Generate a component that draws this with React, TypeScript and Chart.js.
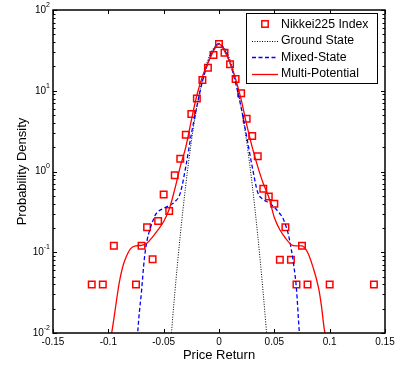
import React, { useEffect, useRef } from "react";
import { Chart, registerables } from "chart.js";

Chart.register(...registerables);

// ---- Data ----
const nikkeiReturns = [
  -0.115, -0.105, -0.095, -0.075, -0.07, -0.065, -0.06, -0.055, -0.05, -0.045, -0.04, -0.035,
  -0.03, -0.025, -0.02, -0.015, -0.01, -0.005, 0, 0.005, 0.01, 0.015, 0.02, 0.025, 0.03, 0.035,
  0.04, 0.045, 0.05, 0.055, 0.06, 0.065, 0.07, 0.075, 0.08, 0.1, 0.14,
];
const nikkeiDensity = [
  0.04, 0.04, 0.12, 0.04, 0.12, 0.204, 0.082, 0.244, 0.52, 0.324, 0.9, 1.44,
  2.86, 5.15, 8.0, 13.6, 19.3, 27.7, 37.9, 29.6, 21.3, 14, 9.3, 4.5, 2.75, 1.54,
  0.61, 0.49, 0.4, 0.081, 0.204, 0.081, 0.04, 0.12, 0.04, 0.04, 0.04,
];

const groundReturns = [
  -0.045, -0.04, -0.035, -0.03, -0.025, -0.02, -0.015, -0.01, -0.005, 0,
  0.005, 0.01, 0.015, 0.02, 0.025, 0.03, 0.035, 0.04, 0.045,
];
const groundDensity = [
  0.0046, 0.0305, 0.162, 0.686, 2.33, 6.35, 13.8, 24.1, 33.6, 37.6,
  33.6, 24.1, 13.8, 6.35, 2.33, 0.686, 0.162, 0.0305, 0.0046,
];

const mixedReturns = [
  -0.075, -0.0725, -0.07, -0.0675, -0.065, -0.0625, -0.06, -0.0575, -0.055, -0.05, -0.045, -0.04,
  -0.035, -0.03, -0.025, -0.02, -0.015, -0.01, -0.005, 0, 0.005, 0.01, 0.015, 0.02, 0.025, 0.03,
  0.035, 0.04, 0.045, 0.05, 0.055, 0.0575, 0.06, 0.0625, 0.065, 0.0675, 0.07, 0.0725, 0.075,
];
const mixedDensity = [
  0.005, 0.015, 0.033, 0.082, 0.14, 0.19, 0.24, 0.29, 0.32, 0.35, 0.38, 0.42,
  0.54, 1.15, 2.9, 6.4, 13, 22, 32, 38.5, 32, 22, 12.5, 6.2, 2.7, 1.15,
  0.55, 0.45, 0.41, 0.36, 0.3, 0.27, 0.22, 0.17, 0.115, 0.07, 0.035, 0.0105, 0.004,
];

const multiReturns = [
  -0.1, -0.097, -0.095, -0.0925, -0.09, -0.0875, -0.085, -0.08, -0.075, -0.07, -0.065, -0.06,
  -0.055, -0.05, -0.045, -0.04, -0.035, -0.03, -0.025, -0.02, -0.015, -0.01, -0.005, 0,
  0.005, 0.01, 0.015, 0.02, 0.025, 0.03, 0.035, 0.04, 0.045, 0.05, 0.055, 0.06, 0.065, 0.07,
  0.075, 0.08, 0.085, 0.09, 0.0925, 0.095, 0.098,
];
const multiDensity = [
  0.006, 0.01, 0.015, 0.026, 0.043, 0.062, 0.08, 0.11, 0.12, 0.122, 0.13, 0.155,
  0.19, 0.24, 0.34, 0.6, 1.15, 2.0, 4.3, 8.8, 15, 22, 31, 38,
  31, 22, 14, 7.8, 3.8, 2.0, 1.15, 0.71, 0.48, 0.27, 0.19, 0.15, 0.125, 0.12,
  0.12, 0.1, 0.065, 0.036, 0.022, 0.0115, 0.007,
];

const seriesLabels = ["Nikkei225 Index", "Ground State", "Mixed-State", "Multi-Potential"];
const xTickValues = [-0.15, -0.1, -0.05, 0, 0.05, 0.1, 0.15];
const xTickLabels = ["-0.15", "-0.1", "-0.05", "0", "0.05", "0.1", "0.15"];
const yDecades = [0.01, 0.1, 1, 10, 100];
const yTickExponents = ["-2", "-1", "0", "1", "2"];
const xTitle = "Price Return";
const yTitle = "Probability Density";

const FONT = "'Liberation Sans', Arial, Helvetica, sans-serif";
const RED = "#ff0000";
const BLUE = "#0000ff";

const zip = (xs: number[], ys: number[]) => xs.map((x, i) => ({ x, y: ys[i] }));

const framePlugin = {
  id: "frameAndLegend",
  afterDraw(chart: any) {
    const { ctx, chartArea: a, scales } = chart;
    const xs = scales.x;
    const ys = scales.y;
    ctx.save();
    ctx.strokeStyle = "#000";
    ctx.lineWidth = 1;
    const seg = (x1: number, y1: number, x2: number, y2: number) => {
      ctx.beginPath();
      ctx.moveTo(x1, y1);
      ctx.lineTo(x2, y2);
      ctx.stroke();
    };
    // x ticks (inward, top and bottom)
    xTickValues.forEach((v) => {
      const px = Math.round(xs.getPixelForValue(v)) + 0.5;
      seg(px, a.bottom, px, a.bottom - 4);
      seg(px, a.top, px, a.top + 4);
    });
    // y ticks (inward, left and right)
    ys.ticks.forEach((t: any) => {
      const py = Math.round(ys.getPixelForValue(t.value)) + 0.5;
      const major = yDecades.some((d) => Math.abs(d - t.value) / d < 1e-6);
      const len = major ? 4 : 2.5;
      seg(a.left, py, a.left + len, py);
      seg(a.right, py, a.right - len, py);
    });
    // frame
    ctx.lineWidth = 1.5;
    ctx.strokeRect(a.left, a.top, a.right - a.left, a.bottom - a.top);

    // y tick labels: 10 with superscript exponent
    ctx.fillStyle = "#000";
    ctx.textBaseline = "middle";
    ctx.textAlign = "right";
    yDecades.forEach((v, i) => {
      const py = ys.getPixelForValue(v);
      const exp = yTickExponents[i];
      ctx.font = `7px ${FONT}`;
      const ew = ctx.measureText(exp).width;
      ctx.fillText(exp, a.left - 3, py - 5);
      ctx.font = `10px ${FONT}`;
      ctx.fillText("10", a.left - 3 - ew, py);
    });

    // legend
    const lx = 246, ly = 13, lw = 131, lh = 70;
    ctx.fillStyle = "#fff";
    ctx.fillRect(lx, ly, lw, lh);
    ctx.lineWidth = 1;
    ctx.strokeStyle = "#000";
    ctx.strokeRect(lx + 0.5, ly + 0.5, lw, lh);
    const rows = [24, 40.5, 57, 73.5];
    const x1 = 252, x2 = 278;
    chart.data.datasets.forEach((ds: any) => {
      const idx = seriesLabels.indexOf(ds.label);
      if (idx < 0) return;
      const y = rows[idx];
      ctx.save();
      if (idx === 0) {
        ctx.strokeStyle = RED;
        ctx.lineWidth = 1.5;
        ctx.strokeRect(265 - 3.2, y - 3.2, 6.4, 6.4);
      } else {
        ctx.strokeStyle = ds.borderColor;
        ctx.lineWidth = ds.borderWidth;
        ctx.setLineDash(ds.borderDash || []);
        ctx.beginPath();
        ctx.moveTo(x1, Math.round(y) + 0.5);
        ctx.lineTo(x2, Math.round(y) + 0.5);
        ctx.stroke();
      }
      ctx.restore();
      ctx.fillStyle = "#000";
      ctx.font = `12.3px ${FONT}`;
      ctx.textAlign = "left";
      ctx.textBaseline = "middle";
      ctx.fillText(ds.label, 281, y + 0.5);
    });
    ctx.restore();
  },
};

export default function App() {
  const canvasRef = useRef<HTMLCanvasElement | null>(null);

  useEffect(() => {
    document.body.style.margin = "0";
    const canvas = canvasRef.current;
    if (!canvas) return;
    Chart.defaults.font.family = FONT;
    Chart.defaults.color = "#000";

    const chart = new Chart(canvas, {
      type: "scatter",
      data: {
        datasets: [
          {
            label: seriesLabels[0],
            data: zip(nikkeiReturns, nikkeiDensity),
            showLine: false,
            pointStyle: "rect",
            pointRadius: 4.6,
            pointBorderWidth: 1.5,
            borderColor: RED,
            backgroundColor: "rgba(0,0,0,0)",
            order: 4,
          },
          {
            label: seriesLabels[1],
            data: zip(groundReturns, groundDensity),
            showLine: true,
            borderColor: "#000",
            borderWidth: 1,
            borderDash: [1, 1.5],
            pointRadius: 0,
            cubicInterpolationMode: "monotone",
            order: 3,
          },
          {
            label: seriesLabels[2],
            data: zip(mixedReturns, mixedDensity),
            showLine: true,
            borderColor: BLUE,
            borderWidth: 1.3,
            borderDash: [4, 2.5],
            pointRadius: 0,
            cubicInterpolationMode: "monotone",
            order: 2,
          },
          {
            label: seriesLabels[3],
            data: zip(multiReturns, multiDensity),
            showLine: true,
            borderColor: RED,
            borderWidth: 1.3,
            pointRadius: 0,
            cubicInterpolationMode: "monotone",
            order: 1,
          },
        ],
      } as any,
      options: {
        responsive: false,
        animation: false,
        devicePixelRatio: 1,
        layout: { padding: { top: 10, right: 23, left: 0, bottom: 0 } },
        plugins: { legend: { display: false }, tooltip: { enabled: false } },
        scales: {
          x: {
            type: "linear",
            min: -0.15,
            max: 0.15,
            afterBuildTicks: (s: any) => {
              s.ticks = xTickValues.map((v) => ({ value: v }));
            },
            afterFit: (s: any) => {
              s.height = 34;
            },
            grid: { display: false, drawTicks: false },
            border: { display: false },
            ticks: {
              padding: 3,
              font: { size: 10 },
              color: "#000",
              maxRotation: 0,
              autoSkip: false,
              callback: (v: any) => {
                const i = xTickValues.findIndex((t) => Math.abs(t - Number(v)) < 1e-9);
                return i >= 0 ? xTickLabels[i] : "";
              },
            },
            title: {
              display: true,
              text: xTitle,
              font: { size: 13 },
              color: "#000",
              padding: { top: 0, bottom: 4 },
            },
          },
          y: {
            type: "logarithmic",
            min: 0.01,
            max: 100,
            afterBuildTicks: (s: any) => {
              const t: any[] = [];
              yDecades.forEach((d, i) => {
                if (i === yDecades.length - 1) {
                  t.push({ value: d, major: true });
                  return;
                }
                for (let k = 1; k <= 9; k++) t.push({ value: d * k, major: k === 1 });
              });
              s.ticks = t;
            },
            afterFit: (s: any) => {
              s.width = 53;
            },
            grid: { display: false, drawTicks: false },
            border: { display: false },
            ticks: { display: false },
            title: {
              display: true,
              text: yTitle,
              font: { size: 13 },
              color: "#000",
              padding: { top: 15, bottom: 0 },
            },
          },
        },
      } as any,
      plugins: [framePlugin],
    });
    return () => chart.destroy();
  }, []);

  return (
    <div style={{ width: 408, height: 367, background: "#fff" }}>
      <canvas ref={canvasRef} width={408} height={367} />
    </div>
  );
}
